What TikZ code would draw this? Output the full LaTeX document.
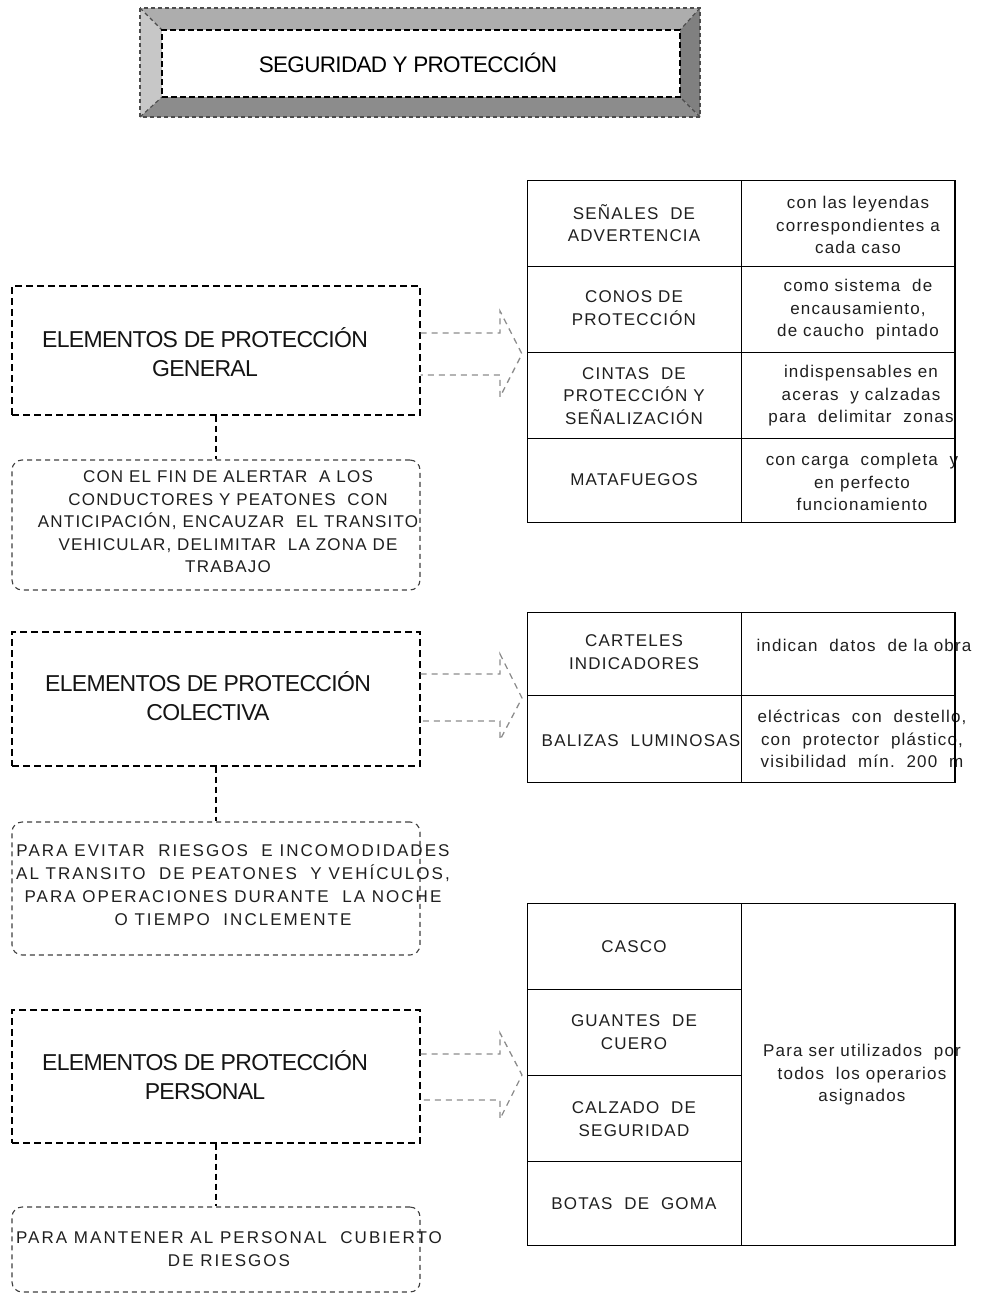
\documentclass[tikz,border=0pt]{standalone}
\usepackage{fontspec}
\setmainfont{Liberation Sans}
\newfontfamily\bodyf[LetterSpace=7]{Liberation Sans}
\newfontfamily\widef[LetterSpace=12]{Liberation Sans}
\newfontfamily\headf[LetterSpace=-3]{Liberation Sans}
\tikzset{
  headbox/.style={draw, dash pattern=on 7pt off 4pt, line width=1.3pt, minimum width=408pt, inner sep=0pt},
  notebox/.style={draw=black!75, dash pattern=on 5pt off 4pt, line width=1.1pt, rounded corners=10pt, minimum width=408pt, inner sep=0pt},
  cell/.style={draw, line width=1.4pt, minimum width=214pt, minimum height=86pt, inner sep=0pt, anchor=north west},
  txt/.style={font=\bodyf\fontsize{17}{22.5}\selectfont, align=center, inner sep=0pt, text=black!88},
  wtxt/.style={font=\widef\fontsize{17}{22.8}\selectfont, align=center, inner sep=0pt, text=black!88},
  htxt/.style={font=\headf\fontsize{23}{29.5}\selectfont, align=center, inner sep=0pt, text=black!92},
  flow/.style={draw=black!45, dash pattern=on 6pt off 5pt, line width=1.3pt},
  link/.style={draw, dash pattern=on 6pt off 4pt, line width=1.3pt},
  bevelline/.style={draw=black!70, dash pattern=on 4pt off 3pt, line width=1.1pt}
}
\begin{document}
\begin{tikzpicture}[x=1pt,y=-1pt]
\useasboundingbox (0,0) rectangle (981,1296);
\fill[white] (0,0) rectangle (981,1296);

% ---------- title ----------
\fill[black!32] (140,8) -- (700,8) -- (680,30) -- (162,30) -- cycle;
\fill[black!22] (140,8) -- (162,30) -- (162,97) -- (140,117) -- cycle;
\fill[black!50] (700,8) -- (700,117) -- (680,97) -- (680,30) -- cycle;
\fill[black!45] (140,117) -- (700,117) -- (680,97) -- (162,97) -- cycle;
\draw[bevelline] (140,8) rectangle (700,117);
\draw[bevelline] (140,8) -- (162,30) (700,8) -- (680,30) (140,117) -- (162,97) (700,117) -- (680,97);
\node[draw, fill=white, dash pattern=on 6pt off 3pt, line width=1.2pt, minimum width=518pt, minimum height=67pt, inner sep=0pt] (title) at (421,63.5) {};
\node[font=\headf\fontsize{22.5}{26}\selectfont, inner sep=0pt] (titletext) at (408,63) {SEGURIDAD Y PROTECCIÓN};

% ---------- left boxes ----------
\node[headbox, minimum height=129pt] (g1) at (216,350.5) {};
\node[htxt] (g1t) at (205,352) {ELEMENTOS DE PROTECCIÓN\\GENERAL};
\node[notebox, minimum height=130pt] (n1) at (216,525) {};
\node[txt] (n1t) at (228,522) {CON EL FIN DE ALERTAR\ \ A LOS\\CONDUCTORES Y PEATONES\ \ CON\\ANTICIPACIÓN, ENCAUZAR\ \ EL TRANSITO\\VEHICULAR, DELIMITAR\ \ LA ZONA DE\\TRABAJO};

\node[headbox, minimum height=134pt] (g2) at (216,699) {};
\node[htxt] (g2t) at (208,696) {ELEMENTOS DE PROTECCIÓN\\COLECTIVA};
\node[notebox, minimum height=133pt] (n2) at (216,888.5) {};
\node[wtxt] (n2t) at (233,885) {PARA EVITAR\ \ RIESGOS\ \ E INCOMODIDADES\\AL TRANSITO\ \ DE PEATONES\ \ Y VEHÍCULOS,\\PARA OPERACIONES DURANTE\ \ LA NOCHE\\O TIEMPO\ \ INCLEMENTE};

\node[headbox, minimum height=133pt] (g3) at (216,1076.5) {};
\node[htxt] (g3t) at (205,1075) {ELEMENTOS DE PROTECCIÓN\\PERSONAL};
\node[notebox, minimum height=85pt] (n3) at (216,1249.5) {};
\node[wtxt] (n3t) at (229,1249.5) {PARA MANTENER AL PERSONAL\ \ CUBIERTO\\DE RIESGOS};

\draw[link] (g1.south) -- (n1.north);
\draw[link] (g2.south) -- (n2.north);
\draw[link] (g3.south) -- (n3.north);

% ---------- table 1 ----------
\node[cell] (t1a) at (527,180) {};
\node[cell] (t1b) at (527,266) {};
\node[cell] (t1c) at (527,352) {};
\node[cell, minimum height=84pt] (t1d) at (527,438) {};
\node[cell] (t1e) at (741,180) {};
\node[cell] (t1f) at (741,266) {};
\node[cell] (t1g) at (741,352) {};
\node[cell, minimum height=84pt] (t1h) at (741,438) {};
\node[txt] (t1at) at (634,223) {SEÑALES\ \ DE\\ADVERTENCIA};
\node[txt] (t1bt) at (634,308) {CONOS DE\\PROTECCIÓN};
\node[txt] (t1ct) at (634,396) {CINTAS\ \ DE\\PROTECCIÓN Y\\SEÑALIZACIÓN};
\node[txt] (t1dt) at (634,480) {MATAFUEGOS};
\node[txt] (t1et) at (858,225) {con las leyendas\\correspondientes a\\cada caso};
\node[txt] (t1ft) at (858,310) {como sistema\ \ de\\encausamiento,\\de caucho\ \ pintado};
\node[txt] (t1gt) at (861,396) {indispensables en\\aceras\ \ y calzadas\\para\ \ delimitar\ \ zonas};
\node[txt] (t1ht) at (862,482) {con carga\ \ completa\ \ y\\en perfecto\\funcionamiento};
\draw[line width=1.4pt] (955,180) -- (955,522);

\draw[flow] (g1.east |- {(0,333)}) -- (500,333) -- (500,311) -- (522,354) -- (500,397) -- (500,375) -- (g1.east |- {(0,375)});

% ---------- table 2 ----------
\node[cell, minimum height=83pt] (t2a) at (527,612) {};
\node[cell, minimum height=87pt] (t2b) at (527,695) {};
\node[cell, minimum height=83pt] (t2c) at (741,612) {};
\node[cell, minimum height=87pt] (t2d) at (741,695) {};
\node[txt] (t2at) at (634,652) {CARTELES\\INDICADORES};
\node[txt] (t2bt) at (641,741) {BALIZAS\ \ LUMINOSAS};
\node[txt] (t2ct) at (864,645) {indican\ \ datos\ \ de la obra};
\node[txt] (t2dt) at (862,739) {eléctricas\ \ con\ \ destello,\\con\ \ protector\ \ plástico,\\visibilidad\ \ mín.\ \ 200\ \ m};
\draw[line width=1.4pt] (955,612) -- (955,782);

\draw[flow] (g2.east |- {(0,674)}) -- (500,674) -- (500,654) -- (522,698) -- (500,740) -- (500,721) -- (g2.east |- {(0,721)});

% ---------- table 3 ----------
\node[cell] (t3a) at (527,903) {};
\node[cell] (t3b) at (527,989) {};
\node[cell] (t3c) at (527,1075) {};
\node[cell, minimum height=84pt] (t3d) at (527,1161) {};
\node[cell, minimum height=342pt] (t3e) at (741,903) {};
\node[txt] (t3at) at (634,947) {CASCO};
\node[txt] (t3bt) at (634,1032) {GUANTES\ \ DE\\CUERO};
\node[txt] (t3ct) at (634,1119) {CALZADO\ \ DE\\SEGURIDAD};
\node[txt] (t3dt) at (634,1204) {BOTAS\ \ DE\ \ GOMA};
\node[txt] (t3et) at (862,1075) {Para ser utilizados\ \ por\\todos\ \ los operarios\\asignados};
\draw[line width=1.4pt] (955,903) -- (955,1245);

\draw[flow] (g3.east |- {(0,1054)}) -- (500,1054) -- (500,1033) -- (522,1075) -- (500,1119) -- (500,1100) -- (g3.east |- {(0,1100)});
\end{tikzpicture}
\end{document}
